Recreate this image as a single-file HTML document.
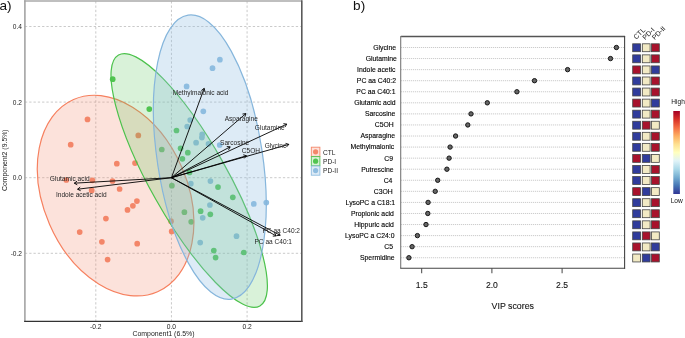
<!DOCTYPE html>
<html><head><meta charset="utf-8"><style>
html,body{margin:0;padding:0;background:#fff;}
body{width:685px;height:338px;overflow:hidden;}
svg{display:block;will-change:transform;font-family:"Liberation Sans",sans-serif;}
</style></head><body>
<svg width="685" height="338" viewBox="0 0 685 338">
<line x1="95.80" y1="1.2" x2="95.80" y2="321.2" stroke="#c4c4c4" stroke-width="0.9" stroke-dasharray="2.3,2.0"/>
<line x1="171.45" y1="1.2" x2="171.45" y2="321.2" stroke="#c4c4c4" stroke-width="0.9" stroke-dasharray="2.3,2.0"/>
<line x1="247.10" y1="1.2" x2="247.10" y2="321.2" stroke="#c4c4c4" stroke-width="0.9" stroke-dasharray="2.3,2.0"/>
<line x1="24.9" y1="26.50" x2="301.8" y2="26.50" stroke="#c4c4c4" stroke-width="0.9" stroke-dasharray="2.3,2.0"/>
<line x1="24.9" y1="102.10" x2="301.8" y2="102.10" stroke="#c4c4c4" stroke-width="0.9" stroke-dasharray="2.3,2.0"/>
<line x1="24.9" y1="177.70" x2="301.8" y2="177.70" stroke="#c4c4c4" stroke-width="0.9" stroke-dasharray="2.3,2.0"/>
<line x1="24.9" y1="253.30" x2="301.8" y2="253.30" stroke="#c4c4c4" stroke-width="0.9" stroke-dasharray="2.3,2.0"/>
<circle cx="87.5" cy="119.4" r="2.85" fill="#f4876a"/>
<circle cx="70.7" cy="144.7" r="2.85" fill="#f4876a"/>
<circle cx="138.3" cy="135.4" r="2.85" fill="#f4876a"/>
<circle cx="116.8" cy="163.7" r="2.85" fill="#f4876a"/>
<circle cx="135" cy="163.1" r="2.85" fill="#f4876a"/>
<circle cx="66.3" cy="180" r="2.85" fill="#f4876a"/>
<circle cx="92.4" cy="180.3" r="2.85" fill="#f4876a"/>
<circle cx="112.5" cy="181" r="2.85" fill="#f4876a"/>
<circle cx="119.6" cy="189" r="2.85" fill="#f4876a"/>
<circle cx="91.7" cy="190.4" r="2.85" fill="#f4876a"/>
<circle cx="136.9" cy="201.1" r="2.85" fill="#f4876a"/>
<circle cx="132.9" cy="205.8" r="2.85" fill="#f4876a"/>
<circle cx="127.5" cy="209.9" r="2.85" fill="#f4876a"/>
<circle cx="105.9" cy="218.6" r="2.85" fill="#f4876a"/>
<circle cx="79.7" cy="232.1" r="2.85" fill="#f4876a"/>
<circle cx="101.9" cy="241.8" r="2.85" fill="#f4876a"/>
<circle cx="137.2" cy="243.7" r="2.85" fill="#f4876a"/>
<circle cx="107.6" cy="259.6" r="2.85" fill="#f4876a"/>
<circle cx="171" cy="221.2" r="2.85" fill="#f4876a"/>
<circle cx="171.7" cy="231.4" r="2.85" fill="#f4876a"/>
<circle cx="112.7" cy="79.2" r="2.85" fill="#50c450"/>
<circle cx="149.3" cy="109.1" r="2.85" fill="#50c450"/>
<circle cx="176.5" cy="130.5" r="2.85" fill="#50c450"/>
<circle cx="161.8" cy="149.5" r="2.85" fill="#50c450"/>
<circle cx="180.6" cy="148.3" r="2.85" fill="#50c450"/>
<circle cx="187.8" cy="152.7" r="2.85" fill="#50c450"/>
<circle cx="182.4" cy="158.8" r="2.85" fill="#50c450"/>
<circle cx="189.5" cy="172.4" r="2.85" fill="#50c450"/>
<circle cx="171.9" cy="185.7" r="2.85" fill="#50c450"/>
<circle cx="218" cy="187.1" r="2.85" fill="#50c450"/>
<circle cx="232.8" cy="197.3" r="2.85" fill="#50c450"/>
<circle cx="184.4" cy="212.2" r="2.85" fill="#50c450"/>
<circle cx="200.6" cy="211.2" r="2.85" fill="#50c450"/>
<circle cx="210.3" cy="214.3" r="2.85" fill="#50c450"/>
<circle cx="191.2" cy="221.8" r="2.85" fill="#50c450"/>
<circle cx="213.8" cy="250.6" r="2.85" fill="#50c450"/>
<circle cx="215.6" cy="257.6" r="2.85" fill="#50c450"/>
<circle cx="243.8" cy="252.5" r="2.85" fill="#50c450"/>
<circle cx="219.9" cy="59.7" r="2.85" fill="#8fbde0"/>
<circle cx="212.5" cy="68.2" r="2.85" fill="#8fbde0"/>
<circle cx="186.6" cy="86.4" r="2.85" fill="#8fbde0"/>
<circle cx="203.3" cy="111.3" r="2.85" fill="#8fbde0"/>
<circle cx="190.2" cy="120" r="2.85" fill="#8fbde0"/>
<circle cx="187.2" cy="126.5" r="2.85" fill="#8fbde0"/>
<circle cx="202.2" cy="134.4" r="2.85" fill="#8fbde0"/>
<circle cx="201.9" cy="137.6" r="2.85" fill="#8fbde0"/>
<circle cx="196.1" cy="142.7" r="2.85" fill="#8fbde0"/>
<circle cx="208.5" cy="143.9" r="2.85" fill="#8fbde0"/>
<circle cx="219.7" cy="145" r="2.85" fill="#8fbde0"/>
<circle cx="190.8" cy="183.7" r="2.85" fill="#8fbde0"/>
<circle cx="210.4" cy="181.1" r="2.85" fill="#8fbde0"/>
<circle cx="209.9" cy="205" r="2.85" fill="#8fbde0"/>
<circle cx="202.7" cy="217.8" r="2.85" fill="#8fbde0"/>
<circle cx="200.2" cy="242.6" r="2.85" fill="#8fbde0"/>
<circle cx="236.5" cy="236.2" r="2.85" fill="#8fbde0"/>
<circle cx="253.8" cy="203.9" r="2.85" fill="#8fbde0"/>
<circle cx="266.3" cy="202.6" r="2.85" fill="#8fbde0"/>
<ellipse cx="115.6" cy="195.6" rx="104.9" ry="72.0" transform="rotate(66.4 115.6 195.6)" fill="rgba(244,135,106,0.24)" stroke="#f6805f" stroke-width="1.2"/>
<ellipse cx="189.2" cy="180.45" rx="144.0" ry="38.4" transform="rotate(60.6 189.2 180.45)" fill="rgba(80,196,80,0.22)" stroke="#4cc24c" stroke-width="1.2"/>
<ellipse cx="209.8" cy="157.1" rx="143.6" ry="52.6" transform="rotate(81.3 209.8 157.1)" fill="rgba(143,189,224,0.3)" stroke="#86b6dc" stroke-width="1.2"/>
<line x1="171.45" y1="177.70" x2="204.19352086286565" y2="88.36335278993562" stroke="#000" stroke-width="0.9"/>
<line x1="204.19352086286565" y1="88.36335278993562" x2="201.47" y2="90.40" stroke="#000" stroke-width="0.9"/>
<line x1="204.19352086286565" y1="88.36335278993562" x2="204.95" y2="91.68" stroke="#000" stroke-width="0.9"/>
<line x1="171.45" y1="177.70" x2="245.84547636578597" y2="113.59167367276963" stroke="#000" stroke-width="0.9"/>
<line x1="245.84547636578597" y1="113.59167367276963" x2="242.48" y2="114.05" stroke="#000" stroke-width="0.9"/>
<line x1="245.84547636578597" y1="113.59167367276963" x2="244.89" y2="116.86" stroke="#000" stroke-width="0.9"/>
<line x1="171.45" y1="177.70" x2="286.7558170482988" y2="124.15271508676328" stroke="#000" stroke-width="0.9"/>
<line x1="286.7558170482988" y1="124.15271508676328" x2="283.39" y2="123.67" stroke="#000" stroke-width="0.9"/>
<line x1="286.7558170482988" y1="124.15271508676328" x2="284.95" y2="127.03" stroke="#000" stroke-width="0.9"/>
<line x1="171.45" y1="177.70" x2="288.82282782365587" y2="144.36392766348052" stroke="#000" stroke-width="0.9"/>
<line x1="288.82282782365587" y1="144.36392766348052" x2="285.57" y2="143.36" stroke="#000" stroke-width="0.9"/>
<line x1="288.82282782365587" y1="144.36392766348052" x2="286.59" y2="146.92" stroke="#000" stroke-width="0.9"/>
<line x1="171.45" y1="177.70" x2="230.16873819601244" y2="146.87885640681878" stroke="#000" stroke-width="0.9"/>
<line x1="230.16873819601244" y1="146.87885640681878" x2="226.78" y2="146.56" stroke="#000" stroke-width="0.9"/>
<line x1="230.16873819601244" y1="146.87885640681878" x2="228.50" y2="149.84" stroke="#000" stroke-width="0.9"/>
<line x1="171.45" y1="177.70" x2="246.524072529866" y2="155.76824847442117" stroke="#000" stroke-width="0.9"/>
<line x1="246.524072529866" y1="155.76824847442117" x2="243.27" y2="154.79" stroke="#000" stroke-width="0.9"/>
<line x1="246.524072529866" y1="155.76824847442117" x2="244.31" y2="158.35" stroke="#000" stroke-width="0.9"/>
<line x1="171.45" y1="177.70" x2="280.16985124041224" y2="235.31903328896905" stroke="#000" stroke-width="0.9"/>
<line x1="280.16985124041224" y1="235.31903328896905" x2="278.52" y2="232.35" stroke="#000" stroke-width="0.9"/>
<line x1="280.16985124041224" y1="235.31903328896905" x2="276.78" y2="235.62" stroke="#000" stroke-width="0.9"/>
<line x1="171.45" y1="177.70" x2="276.17556440396527" y2="235.90850848106382" stroke="#000" stroke-width="0.9"/>
<line x1="276.17556440396527" y1="235.90850848106382" x2="274.58" y2="232.90" stroke="#000" stroke-width="0.9"/>
<line x1="276.17556440396527" y1="235.90850848106382" x2="272.78" y2="236.14" stroke="#000" stroke-width="0.9"/>
<line x1="171.45" y1="177.70" x2="74.29905249086035" y2="183.16629372174185" stroke="#000" stroke-width="0.9"/>
<line x1="74.29905249086035" y1="183.16629372174185" x2="77.25" y2="184.85" stroke="#000" stroke-width="0.9"/>
<line x1="74.29905249086035" y1="183.16629372174185" x2="77.04" y2="181.16" stroke="#000" stroke-width="0.9"/>
<line x1="171.45" y1="177.70" x2="77.59552540400301" y2="189.22685977039245" stroke="#000" stroke-width="0.9"/>
<line x1="77.59552540400301" y1="189.22685977039245" x2="80.65" y2="190.72" stroke="#000" stroke-width="0.9"/>
<line x1="77.59552540400301" y1="189.22685977039245" x2="80.20" y2="187.04" stroke="#000" stroke-width="0.9"/>
<text x="200.6" y="94.60" font-size="6.55" text-anchor="middle" fill="#262626">Methylmalonic acid</text>
<text x="241.3" y="120.70" font-size="6.55" text-anchor="middle" fill="#262626">Asparagine</text>
<text x="269.75" y="130.10" font-size="6.55" text-anchor="middle" fill="#262626">Glutamine</text>
<text x="234.65" y="144.50" font-size="6.55" text-anchor="middle" fill="#262626">Sarcosine</text>
<text x="275.65" y="147.90" font-size="6.55" text-anchor="middle" fill="#262626">Glycine</text>
<text x="250.9" y="153.20" font-size="6.55" text-anchor="middle" fill="#262626">C5OH</text>
<text x="281.25" y="233.30" font-size="6.55" text-anchor="middle" fill="#262626">PC aa C40:2</text>
<text x="273.25" y="243.90" font-size="6.55" text-anchor="middle" fill="#262626">PC aa C40:1</text>
<text x="69.7" y="181.40" font-size="6.55" text-anchor="middle" fill="#262626">Glutamic acid</text>
<text x="81.3" y="197.00" font-size="6.55" text-anchor="middle" fill="#262626">Indole acetic acid</text>
<line x1="24.099999999999998" y1="1.0" x2="301.8" y2="1.0" stroke="#aaa" stroke-width="1.6"/>
<line x1="24.9" y1="0.2" x2="24.9" y2="321.2" stroke="#a4a4a4" stroke-width="1.6"/>
<line x1="24.099999999999998" y1="321.3" x2="302.6" y2="321.3" stroke="#333" stroke-width="1.2"/>
<line x1="301.8" y1="0.2" x2="301.8" y2="321.8" stroke="#5a5a5a" stroke-width="1.6"/>
<text x="95.80" y="328.6" font-size="6.7" text-anchor="middle" fill="#222">-0.2</text>
<text x="171.45" y="328.6" font-size="6.7" text-anchor="middle" fill="#222">0.0</text>
<text x="247.10" y="328.6" font-size="6.7" text-anchor="middle" fill="#222">0.2</text>
<text x="22" y="28.90" font-size="6.6" text-anchor="end" fill="#222">0.4</text>
<text x="22" y="104.50" font-size="6.6" text-anchor="end" fill="#222">0.2</text>
<text x="22" y="180.10" font-size="6.6" text-anchor="end" fill="#222">0.0</text>
<text x="22" y="255.70" font-size="6.6" text-anchor="end" fill="#222">-0.2</text>
<text x="163.5" y="336.3" font-size="6.95" text-anchor="middle" fill="#222">Component1 (6.5%)</text>
<text transform="translate(6.9 160.2) rotate(-90)" font-size="6.9" text-anchor="middle" fill="#222">Component2 (9.5%)</text>
<text x="-0.5" y="10" font-size="13.6" fill="#111">a)</text>
<rect x="311.3" y="147.20" width="8.6" height="9.2" fill="#fde2da" stroke="#f4876a" stroke-width="0.9"/>
<circle cx="315.6" cy="151.80" r="2.6" fill="#f4876a"/>
<text x="323" y="154.50" font-size="6.6" fill="#222">CTL</text>
<rect x="311.3" y="156.60" width="8.6" height="9.2" fill="#d8f2d6" stroke="#50c450" stroke-width="0.9"/>
<circle cx="315.6" cy="161.20" r="2.6" fill="#50c450"/>
<text x="323" y="163.90" font-size="6.6" fill="#222">PD-I</text>
<rect x="311.3" y="166.00" width="8.6" height="9.2" fill="#deebf6" stroke="#8fbde0" stroke-width="0.9"/>
<circle cx="315.6" cy="170.60" r="2.6" fill="#8fbde0"/>
<text x="323" y="173.30" font-size="6.6" fill="#222">PD-II</text>
<line x1="400.85" y1="47.50" x2="624.6" y2="47.50" stroke="#b4b4b4" stroke-width="0.8" stroke-dasharray="1,1"/>
<text x="396.00" y="49.90" font-size="6.85" text-anchor="end" fill="#000" stroke="#000" stroke-width="0.12">Glycine</text>
<circle cx="616.4" cy="47.50" r="2.2" fill="#666" stroke="#111" stroke-width="0.95"/>
<rect x="632.70" y="43.80" width="7.8" height="7.9" fill="#303c9c" stroke="#444" stroke-width="0.8"/>
<rect x="642.30" y="43.80" width="7.8" height="7.9" fill="#f2eac4" stroke="#444" stroke-width="0.8"/>
<rect x="651.50" y="43.80" width="7.8" height="7.9" fill="#a8122c" stroke="#444" stroke-width="0.8"/>
<line x1="400.85" y1="58.56" x2="624.6" y2="58.56" stroke="#b4b4b4" stroke-width="0.8" stroke-dasharray="1,1"/>
<text x="396.90" y="60.96" font-size="6.85" text-anchor="end" fill="#000" stroke="#000" stroke-width="0.12">Glutamine</text>
<circle cx="610.5" cy="58.56" r="2.2" fill="#666" stroke="#111" stroke-width="0.95"/>
<rect x="632.70" y="54.86" width="7.8" height="7.9" fill="#303c9c" stroke="#444" stroke-width="0.8"/>
<rect x="642.30" y="54.86" width="7.8" height="7.9" fill="#f2eac4" stroke="#444" stroke-width="0.8"/>
<rect x="651.50" y="54.86" width="7.8" height="7.9" fill="#a8122c" stroke="#444" stroke-width="0.8"/>
<line x1="400.85" y1="69.63" x2="624.6" y2="69.63" stroke="#b4b4b4" stroke-width="0.8" stroke-dasharray="1,1"/>
<text x="395.50" y="72.03" font-size="6.85" text-anchor="end" fill="#000" stroke="#000" stroke-width="0.12">Indole acetic</text>
<circle cx="567.6" cy="69.63" r="2.2" fill="#666" stroke="#111" stroke-width="0.95"/>
<rect x="632.70" y="65.93" width="7.8" height="7.9" fill="#a8122c" stroke="#444" stroke-width="0.8"/>
<rect x="642.30" y="65.93" width="7.8" height="7.9" fill="#f2eac4" stroke="#444" stroke-width="0.8"/>
<rect x="651.50" y="65.93" width="7.8" height="7.9" fill="#303c9c" stroke="#444" stroke-width="0.8"/>
<line x1="400.85" y1="80.69" x2="624.6" y2="80.69" stroke="#b4b4b4" stroke-width="0.8" stroke-dasharray="1,1"/>
<text x="396.00" y="83.09" font-size="6.85" text-anchor="end" fill="#000" stroke="#000" stroke-width="0.12">PC aa C40:2</text>
<circle cx="534.5" cy="80.69" r="2.2" fill="#666" stroke="#111" stroke-width="0.95"/>
<rect x="632.70" y="76.99" width="7.8" height="7.9" fill="#303c9c" stroke="#444" stroke-width="0.8"/>
<rect x="642.30" y="76.99" width="7.8" height="7.9" fill="#f2eac4" stroke="#444" stroke-width="0.8"/>
<rect x="651.50" y="76.99" width="7.8" height="7.9" fill="#a8122c" stroke="#444" stroke-width="0.8"/>
<line x1="400.85" y1="91.76" x2="624.6" y2="91.76" stroke="#b4b4b4" stroke-width="0.8" stroke-dasharray="1,1"/>
<text x="395.50" y="94.16" font-size="6.85" text-anchor="end" fill="#000" stroke="#000" stroke-width="0.12">PC aa C40:1</text>
<circle cx="516.9" cy="91.76" r="2.2" fill="#666" stroke="#111" stroke-width="0.95"/>
<rect x="632.70" y="88.06" width="7.8" height="7.9" fill="#303c9c" stroke="#444" stroke-width="0.8"/>
<rect x="642.30" y="88.06" width="7.8" height="7.9" fill="#f2eac4" stroke="#444" stroke-width="0.8"/>
<rect x="651.50" y="88.06" width="7.8" height="7.9" fill="#a8122c" stroke="#444" stroke-width="0.8"/>
<line x1="400.85" y1="102.82" x2="624.6" y2="102.82" stroke="#b4b4b4" stroke-width="0.8" stroke-dasharray="1,1"/>
<text x="395.70" y="105.22" font-size="6.85" text-anchor="end" fill="#000" stroke="#000" stroke-width="0.12">Glutamic acid</text>
<circle cx="487.3" cy="102.82" r="2.2" fill="#666" stroke="#111" stroke-width="0.95"/>
<rect x="632.70" y="99.12" width="7.8" height="7.9" fill="#a8122c" stroke="#444" stroke-width="0.8"/>
<rect x="642.30" y="99.12" width="7.8" height="7.9" fill="#f2eac4" stroke="#444" stroke-width="0.8"/>
<rect x="651.50" y="99.12" width="7.8" height="7.9" fill="#303c9c" stroke="#444" stroke-width="0.8"/>
<line x1="400.85" y1="113.89" x2="624.6" y2="113.89" stroke="#b4b4b4" stroke-width="0.8" stroke-dasharray="1,1"/>
<text x="395.40" y="116.29" font-size="6.85" text-anchor="end" fill="#000" stroke="#000" stroke-width="0.12">Sarcosine</text>
<circle cx="471" cy="113.89" r="2.2" fill="#666" stroke="#111" stroke-width="0.95"/>
<rect x="632.70" y="110.19" width="7.8" height="7.9" fill="#303c9c" stroke="#444" stroke-width="0.8"/>
<rect x="642.30" y="110.19" width="7.8" height="7.9" fill="#f2eac4" stroke="#444" stroke-width="0.8"/>
<rect x="651.50" y="110.19" width="7.8" height="7.9" fill="#a8122c" stroke="#444" stroke-width="0.8"/>
<line x1="400.85" y1="124.95" x2="624.6" y2="124.95" stroke="#b4b4b4" stroke-width="0.8" stroke-dasharray="1,1"/>
<text x="393.80" y="127.36" font-size="6.85" text-anchor="end" fill="#000" stroke="#000" stroke-width="0.12">C5OH</text>
<circle cx="467.8" cy="124.95" r="2.2" fill="#666" stroke="#111" stroke-width="0.95"/>
<rect x="632.70" y="121.25" width="7.8" height="7.9" fill="#303c9c" stroke="#444" stroke-width="0.8"/>
<rect x="642.30" y="121.25" width="7.8" height="7.9" fill="#a8122c" stroke="#444" stroke-width="0.8"/>
<rect x="651.50" y="121.25" width="7.8" height="7.9" fill="#f2eac4" stroke="#444" stroke-width="0.8"/>
<line x1="400.85" y1="136.02" x2="624.6" y2="136.02" stroke="#b4b4b4" stroke-width="0.8" stroke-dasharray="1,1"/>
<text x="395.10" y="138.42" font-size="6.85" text-anchor="end" fill="#000" stroke="#000" stroke-width="0.12">Asparagine</text>
<circle cx="455.6" cy="136.02" r="2.2" fill="#666" stroke="#111" stroke-width="0.95"/>
<rect x="632.70" y="132.32" width="7.8" height="7.9" fill="#303c9c" stroke="#444" stroke-width="0.8"/>
<rect x="642.30" y="132.32" width="7.8" height="7.9" fill="#f2eac4" stroke="#444" stroke-width="0.8"/>
<rect x="651.50" y="132.32" width="7.8" height="7.9" fill="#a8122c" stroke="#444" stroke-width="0.8"/>
<line x1="400.85" y1="147.08" x2="624.6" y2="147.08" stroke="#b4b4b4" stroke-width="0.8" stroke-dasharray="1,1"/>
<text x="394.20" y="149.48" font-size="6.85" text-anchor="end" fill="#000" stroke="#000" stroke-width="0.12">Methylmalonic</text>
<circle cx="450.1" cy="147.08" r="2.2" fill="#666" stroke="#111" stroke-width="0.95"/>
<rect x="632.70" y="143.38" width="7.8" height="7.9" fill="#303c9c" stroke="#444" stroke-width="0.8"/>
<rect x="642.30" y="143.38" width="7.8" height="7.9" fill="#f2eac4" stroke="#444" stroke-width="0.8"/>
<rect x="651.50" y="143.38" width="7.8" height="7.9" fill="#a8122c" stroke="#444" stroke-width="0.8"/>
<line x1="400.85" y1="158.15" x2="624.6" y2="158.15" stroke="#b4b4b4" stroke-width="0.8" stroke-dasharray="1,1"/>
<text x="393.00" y="160.55" font-size="6.85" text-anchor="end" fill="#000" stroke="#000" stroke-width="0.12">C9</text>
<circle cx="449.1" cy="158.15" r="2.2" fill="#666" stroke="#111" stroke-width="0.95"/>
<rect x="632.70" y="154.45" width="7.8" height="7.9" fill="#a8122c" stroke="#444" stroke-width="0.8"/>
<rect x="642.30" y="154.45" width="7.8" height="7.9" fill="#303c9c" stroke="#444" stroke-width="0.8"/>
<rect x="651.50" y="154.45" width="7.8" height="7.9" fill="#f2eac4" stroke="#444" stroke-width="0.8"/>
<line x1="400.85" y1="169.21" x2="624.6" y2="169.21" stroke="#b4b4b4" stroke-width="0.8" stroke-dasharray="1,1"/>
<text x="393.60" y="171.61" font-size="6.85" text-anchor="end" fill="#000" stroke="#000" stroke-width="0.12">Putrescine</text>
<circle cx="446.9" cy="169.21" r="2.2" fill="#666" stroke="#111" stroke-width="0.95"/>
<rect x="632.70" y="165.51" width="7.8" height="7.9" fill="#303c9c" stroke="#444" stroke-width="0.8"/>
<rect x="642.30" y="165.51" width="7.8" height="7.9" fill="#f2eac4" stroke="#444" stroke-width="0.8"/>
<rect x="651.50" y="165.51" width="7.8" height="7.9" fill="#a8122c" stroke="#444" stroke-width="0.8"/>
<line x1="400.85" y1="180.28" x2="624.6" y2="180.28" stroke="#b4b4b4" stroke-width="0.8" stroke-dasharray="1,1"/>
<text x="392.40" y="182.68" font-size="6.85" text-anchor="end" fill="#000" stroke="#000" stroke-width="0.12">C4</text>
<circle cx="437.7" cy="180.28" r="2.2" fill="#666" stroke="#111" stroke-width="0.95"/>
<rect x="632.70" y="176.58" width="7.8" height="7.9" fill="#303c9c" stroke="#444" stroke-width="0.8"/>
<rect x="642.30" y="176.58" width="7.8" height="7.9" fill="#f2eac4" stroke="#444" stroke-width="0.8"/>
<rect x="651.50" y="176.58" width="7.8" height="7.9" fill="#a8122c" stroke="#444" stroke-width="0.8"/>
<line x1="400.85" y1="191.34" x2="624.6" y2="191.34" stroke="#b4b4b4" stroke-width="0.8" stroke-dasharray="1,1"/>
<text x="392.80" y="193.75" font-size="6.85" text-anchor="end" fill="#000" stroke="#000" stroke-width="0.12">C3OH</text>
<circle cx="435.2" cy="191.34" r="2.2" fill="#666" stroke="#111" stroke-width="0.95"/>
<rect x="632.70" y="187.65" width="7.8" height="7.9" fill="#a8122c" stroke="#444" stroke-width="0.8"/>
<rect x="642.30" y="187.65" width="7.8" height="7.9" fill="#303c9c" stroke="#444" stroke-width="0.8"/>
<rect x="651.50" y="187.65" width="7.8" height="7.9" fill="#f2eac4" stroke="#444" stroke-width="0.8"/>
<line x1="400.85" y1="202.41" x2="624.6" y2="202.41" stroke="#b4b4b4" stroke-width="0.8" stroke-dasharray="1,1"/>
<text x="395.20" y="204.81" font-size="6.85" text-anchor="end" fill="#000" stroke="#000" stroke-width="0.12">LysoPC a C18:1</text>
<circle cx="428.1" cy="202.41" r="2.2" fill="#666" stroke="#111" stroke-width="0.95"/>
<rect x="632.70" y="198.71" width="7.8" height="7.9" fill="#303c9c" stroke="#444" stroke-width="0.8"/>
<rect x="642.30" y="198.71" width="7.8" height="7.9" fill="#f2eac4" stroke="#444" stroke-width="0.8"/>
<rect x="651.50" y="198.71" width="7.8" height="7.9" fill="#a8122c" stroke="#444" stroke-width="0.8"/>
<line x1="400.85" y1="213.47" x2="624.6" y2="213.47" stroke="#b4b4b4" stroke-width="0.8" stroke-dasharray="1,1"/>
<text x="393.90" y="215.88" font-size="6.85" text-anchor="end" fill="#000" stroke="#000" stroke-width="0.12">Propionic acid</text>
<circle cx="427.8" cy="213.47" r="2.2" fill="#666" stroke="#111" stroke-width="0.95"/>
<rect x="632.70" y="209.78" width="7.8" height="7.9" fill="#303c9c" stroke="#444" stroke-width="0.8"/>
<rect x="642.30" y="209.78" width="7.8" height="7.9" fill="#f2eac4" stroke="#444" stroke-width="0.8"/>
<rect x="651.50" y="209.78" width="7.8" height="7.9" fill="#a8122c" stroke="#444" stroke-width="0.8"/>
<line x1="400.85" y1="224.54" x2="624.6" y2="224.54" stroke="#b4b4b4" stroke-width="0.8" stroke-dasharray="1,1"/>
<text x="393.90" y="226.94" font-size="6.85" text-anchor="end" fill="#000" stroke="#000" stroke-width="0.12">Hippuric acid</text>
<circle cx="426" cy="224.54" r="2.2" fill="#666" stroke="#111" stroke-width="0.95"/>
<rect x="632.70" y="220.84" width="7.8" height="7.9" fill="#303c9c" stroke="#444" stroke-width="0.8"/>
<rect x="642.30" y="220.84" width="7.8" height="7.9" fill="#f2eac4" stroke="#444" stroke-width="0.8"/>
<rect x="651.50" y="220.84" width="7.8" height="7.9" fill="#a8122c" stroke="#444" stroke-width="0.8"/>
<line x1="400.85" y1="235.60" x2="624.6" y2="235.60" stroke="#b4b4b4" stroke-width="0.8" stroke-dasharray="1,1"/>
<text x="394.60" y="238.00" font-size="6.85" text-anchor="end" fill="#000" stroke="#000" stroke-width="0.12">LysoPC a C24:0</text>
<circle cx="417.4" cy="235.60" r="2.2" fill="#666" stroke="#111" stroke-width="0.95"/>
<rect x="632.70" y="231.91" width="7.8" height="7.9" fill="#303c9c" stroke="#444" stroke-width="0.8"/>
<rect x="642.30" y="231.91" width="7.8" height="7.9" fill="#a8122c" stroke="#444" stroke-width="0.8"/>
<rect x="651.50" y="231.91" width="7.8" height="7.9" fill="#f2eac4" stroke="#444" stroke-width="0.8"/>
<line x1="400.85" y1="246.67" x2="624.6" y2="246.67" stroke="#b4b4b4" stroke-width="0.8" stroke-dasharray="1,1"/>
<text x="393.10" y="249.07" font-size="6.85" text-anchor="end" fill="#000" stroke="#000" stroke-width="0.12">C5</text>
<circle cx="412.1" cy="246.67" r="2.2" fill="#666" stroke="#111" stroke-width="0.95"/>
<rect x="632.70" y="242.97" width="7.8" height="7.9" fill="#a8122c" stroke="#444" stroke-width="0.8"/>
<rect x="642.30" y="242.97" width="7.8" height="7.9" fill="#f2eac4" stroke="#444" stroke-width="0.8"/>
<rect x="651.50" y="242.97" width="7.8" height="7.9" fill="#303c9c" stroke="#444" stroke-width="0.8"/>
<line x1="400.85" y1="257.74" x2="624.6" y2="257.74" stroke="#b4b4b4" stroke-width="0.8" stroke-dasharray="1,1"/>
<text x="394.60" y="260.13" font-size="6.85" text-anchor="end" fill="#000" stroke="#000" stroke-width="0.12">Spermidine</text>
<circle cx="408.9" cy="257.74" r="2.2" fill="#666" stroke="#111" stroke-width="0.95"/>
<rect x="632.70" y="254.04" width="7.8" height="7.9" fill="#f2eac4" stroke="#444" stroke-width="0.8"/>
<rect x="642.30" y="254.04" width="7.8" height="7.9" fill="#303c9c" stroke="#444" stroke-width="0.8"/>
<rect x="651.50" y="254.04" width="7.8" height="7.9" fill="#a8122c" stroke="#444" stroke-width="0.8"/>
<line x1="400.85" y1="36.5" x2="625.1" y2="36.5" stroke="#555" stroke-width="1.3"/>
<line x1="400.65000000000003" y1="35.9" x2="400.65000000000003" y2="268.25" stroke="#8c8c8c" stroke-width="1.3"/>
<line x1="400.25" y1="268.25" x2="625.1" y2="268.25" stroke="#444" stroke-width="1.1"/>
<line x1="624.6" y1="35.9" x2="624.6" y2="268.75" stroke="#444" stroke-width="1.1"/>
<line x1="421.70" y1="268.25" x2="421.70" y2="273.25" stroke="#444" stroke-width="1"/>
<text x="421.70" y="288.1" font-size="8.6" text-anchor="middle" fill="#111" stroke="#111" stroke-width="0.1">1.5</text>
<line x1="491.90" y1="268.25" x2="491.90" y2="273.25" stroke="#444" stroke-width="1"/>
<text x="491.90" y="288.1" font-size="8.6" text-anchor="middle" fill="#111" stroke="#111" stroke-width="0.1">2.0</text>
<line x1="562.10" y1="268.25" x2="562.10" y2="273.25" stroke="#444" stroke-width="1"/>
<text x="562.10" y="288.1" font-size="8.6" text-anchor="middle" fill="#111" stroke="#111" stroke-width="0.1">2.5</text>
<text x="512.8" y="308.7" font-size="8.8" text-anchor="middle" fill="#111" stroke="#111" stroke-width="0.1">VIP scores</text>
<text x="353.1" y="9.8" font-size="13.6" fill="#111">b)</text>
<text transform="translate(636.3 39.8) rotate(-45)" font-size="7.0" fill="#111">CTL</text>
<text transform="translate(645.2 40.3) rotate(-45)" font-size="7.0" fill="#111">PD-I</text>
<text transform="translate(654.7 40.3) rotate(-45)" font-size="7.0" fill="#111">PD-II</text>
<defs><linearGradient id="cb" x1="0" y1="0" x2="0" y2="1"><stop offset="0.00" stop-color="#a50026"/><stop offset="0.10" stop-color="#d73027"/><stop offset="0.20" stop-color="#f46d43"/><stop offset="0.30" stop-color="#fdae61"/><stop offset="0.40" stop-color="#fee090"/><stop offset="0.50" stop-color="#ffffbf"/><stop offset="0.60" stop-color="#e0f3f8"/><stop offset="0.70" stop-color="#abd9e9"/><stop offset="0.80" stop-color="#74add1"/><stop offset="0.90" stop-color="#4575b4"/><stop offset="1.00" stop-color="#313695"/></linearGradient></defs>
<rect x="673.3" y="111.0" width="6.6" height="83.0" fill="url(#cb)"/>
<text x="671.3" y="104.2" font-size="6.6" fill="#111">High</text>
<text x="670.7" y="203.4" font-size="6.6" fill="#111">Low</text>
</svg></body></html>
